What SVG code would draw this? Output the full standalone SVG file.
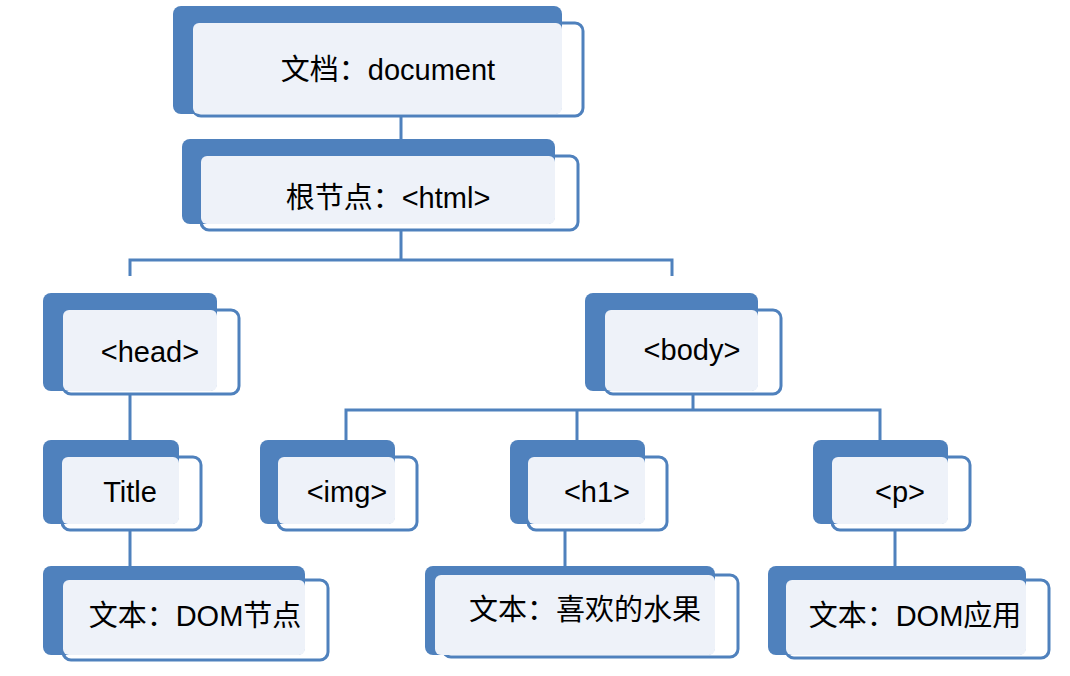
<svg xmlns="http://www.w3.org/2000/svg" width="1070" height="676" viewBox="0 0 1070 676">
<style>
.o{fill:#fff;stroke:#4f81bd;stroke-width:3}
.b{fill:#4f81bd}
.f{fill:#eef2f9}
.t{font-family:"Liberation Sans","Noto Sans CJK SC",sans-serif;font-size:29px;fill:#000;text-anchor:middle;dominant-baseline:central}
.c{stroke:#4f81bd;stroke-width:3;fill:none}
</style>
<rect width="1070" height="676" fill="#fff"/>
<g id="connectors">
<path class="c" d="M401,116V139M401,230V260M130,276V260H672V276M130,394V440M130,530V566M693,394V410M346,440V410H880V440M577,410V440M565,530V566M895,530V566"/>
</g>
<g id="n-document"><rect class="o" x="193" y="23" width="390" height="93" rx="8"/><rect class="b" x="173" y="6" width="389" height="108" rx="8"/><rect class="f" x="193" y="23" width="369" height="91" rx="6"/><text class="t" x="388" y="70">文档：document</text></g>
<g id="n-html"><rect class="o" x="201" y="156" width="377" height="74" rx="8"/><rect class="b" x="182" y="139" width="373" height="85" rx="8"/><rect class="f" x="201" y="156" width="354" height="68" rx="6"/><text class="t" x="388" y="198">根节点：&lt;html&gt;</text></g>
<g id="n-head"><rect class="o" x="63" y="310" width="176" height="84" rx="8"/><rect class="b" x="43" y="293" width="174" height="98" rx="8"/><rect class="f" x="63" y="310" width="154" height="81" rx="6"/><text class="t" x="150" y="352">&lt;head&gt;</text></g>
<g id="n-body"><rect class="o" x="605" y="310" width="176" height="84" rx="8"/><rect class="b" x="585" y="293" width="173" height="98" rx="8"/><rect class="f" x="605" y="310" width="153" height="81" rx="6"/><text class="t" x="692" y="350">&lt;body&gt;</text></g>
<g id="n-title"><rect class="o" x="62" y="457" width="139" height="73" rx="8"/><rect class="b" x="43" y="440" width="136" height="84" rx="8"/><rect class="f" x="62" y="457" width="117" height="67" rx="6"/><text class="t" x="130" y="492">Title</text></g>
<g id="n-img"><rect class="o" x="278" y="457" width="139" height="73" rx="8"/><rect class="b" x="260" y="440" width="135" height="84" rx="8"/><rect class="f" x="278" y="457" width="117" height="67" rx="6"/><text class="t" x="347" y="492">&lt;img&gt;</text></g>
<g id="n-h1"><rect class="o" x="528" y="457" width="139" height="73" rx="8"/><rect class="b" x="510" y="440" width="135" height="84" rx="8"/><rect class="f" x="528" y="457" width="117" height="67" rx="6"/><text class="t" x="597" y="492">&lt;h1&gt;</text></g>
<g id="n-p"><rect class="o" x="832" y="457" width="138" height="73" rx="8"/><rect class="b" x="813" y="440" width="135" height="84" rx="8"/><rect class="f" x="832" y="457" width="116" height="67" rx="6"/><text class="t" x="900" y="492">&lt;p&gt;</text></g>
<g id="n-domnode"><rect class="o" x="63" y="580" width="265" height="80" rx="8"/><rect class="b" x="43" y="566" width="262" height="89" rx="8"/><rect class="f" x="63" y="580" width="242" height="75" rx="6"/><text class="t" x="195" y="616">文本：DOM节点</text></g>
<g id="n-fruit"><rect class="o" x="443" y="575" width="295" height="82" rx="8"/><rect class="b" x="425" y="566" width="290" height="89" rx="8"/><rect class="f" x="435" y="575" width="280" height="80" rx="6"/><text class="t" x="585" y="610">文本：喜欢的水果</text></g>
<g id="n-domapp"><rect class="o" x="786" y="580" width="263" height="78" rx="8"/><rect class="b" x="768" y="566" width="258" height="89" rx="8"/><rect class="f" x="786" y="580" width="240" height="75" rx="6"/><text class="t" x="915" y="616">文本：DOM应用</text></g>
</svg>
